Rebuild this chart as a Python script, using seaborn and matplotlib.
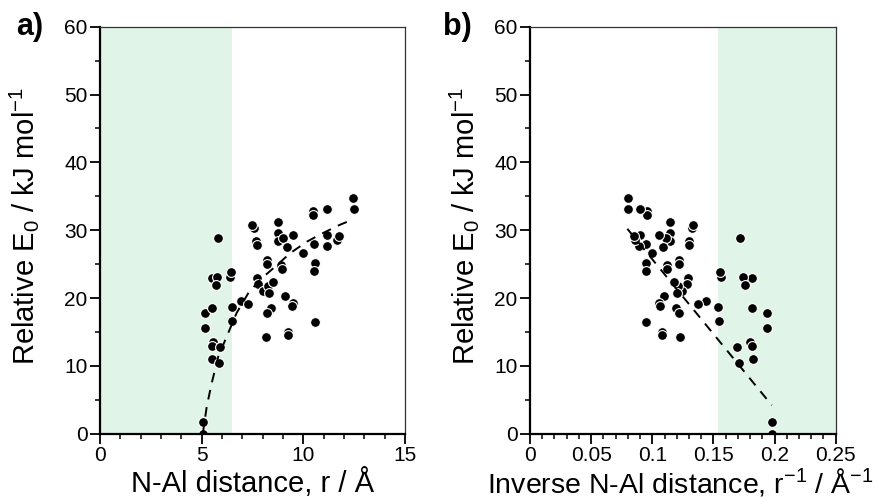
import numpy as np
import pandas as pd
import matplotlib
matplotlib.use("Agg")
import matplotlib.pyplot as plt
from matplotlib.ticker import MultipleLocator, FuncFormatter
import seaborn as sns

# ---- data ----
r_dist = [5.05, 5.05, 5.16, 5.52, 5.16, 5.52, 5.74, 5.70, 5.82, 5.57, 5.52, 5.90,
          5.49, 5.85, 6.39, 6.44, 6.51, 6.48, 6.94, 7.26, 7.57, 7.49, 7.67, 7.71,
          7.74, 7.79, 8.03, 8.23, 8.20, 8.28, 8.33, 8.49, 8.40, 8.20, 8.17, 8.74,
          8.74, 8.74, 9.02, 9.18, 9.47, 8.90, 8.93, 9.10, 9.51, 9.44, 9.26, 9.23,
          10.00, 10.46, 10.49, 10.54, 10.58, 10.54, 10.58, 11.15, 11.15, 11.18,
          11.64, 11.77, 12.43, 12.49]
energy = [0.0, 1.7, 17.8, 18.5, 15.6, 22.9, 23.1, 21.9, 28.8, 13.5, 12.9, 12.8,
          11.0, 10.4, 23.1, 23.8, 18.7, 16.6, 19.6, 19.1, 30.3, 30.7, 28.4, 27.8,
          23.0, 22.1, 21.1, 25.6, 25.0, 21.7, 20.7, 22.4, 18.6, 17.8, 14.3, 31.2,
          29.6, 28.4, 28.8, 27.5, 29.3, 24.8, 24.3, 20.3, 19.2, 18.8, 15.0, 14.5,
          26.6, 32.9, 32.2, 28.0, 25.2, 24.0, 16.4, 33.1, 29.3, 27.6,
          28.5, 29.2, 34.7, 33.1]

# fitted curve (left)
fit_r = [5.0, 5.08, 5.25, 5.49, 5.82, 6.23, 6.72, 7.29, 7.87, 8.53, 9.35, 10.17,
         10.98, 11.80, 12.46]
fit_E = [0.0, 0.5, 4.0, 7.4, 11.4, 14.3, 17.8, 20.7, 22.7, 24.4, 26.6, 28.3,
         29.6, 30.8, 31.6]
# linear fit (right)
fit_inv = [0.0796, 0.1977]
fit_inv_E = [30.2, 4.2]

shade_left = (0.0, 6.5)
shade_right = (1 / 6.5, 0.25)

df = pd.DataFrame({"r": r_dist, "E": energy})
df["inv"] = 1.0 / df["r"]
fit_left = pd.DataFrame({"x": fit_r, "y": fit_E})
fit_right = pd.DataFrame({"x": fit_inv, "y": fit_inv_E})

# ---- styling ----
sns.set_style("ticks")
plt.rcParams["font.family"] = ["Liberation Sans", "DejaVu Sans"]
plt.rcParams["mathtext.fontset"] = "custom"
plt.rcParams["mathtext.rm"] = "Liberation Sans"
plt.rcParams["mathtext.it"] = "Liberation Sans:italic"
plt.rcParams["mathtext.default"] = "regular"
for k in ["text.color", "axes.labelcolor", "xtick.color", "ytick.color", "axes.edgecolor"]:
    plt.rcParams[k] = "black"

green = "#e0f4e7"

fig = plt.figure(figsize=(8.81, 4.97), dpi=100)
axL = fig.add_axes([0.1135, 0.1274, 0.3462, 0.8189])
axR = fig.add_axes([0.6016, 0.1274, 0.3470, 0.8189])


def style(ax, ylab_x):
    for s in ["left", "bottom"]:
        ax.spines[s].set_linewidth(1.6)
        ax.spines[s].set_color("black")
    for s in ["top", "right"]:
        ax.spines[s].set_linewidth(0.9)
        ax.spines[s].set_color("#333333")
    ax.tick_params(which="major", direction="out", length=7, width=1.3,
                   labelsize=15, colors="black", pad=2)
    ax.tick_params(which="minor", direction="out", length=3.5, width=1.1)
    ax.tick_params(top=False, right=False)
    ax.set_ylim(0, 60)
    ax.yaxis.set_major_locator(MultipleLocator(10))
    ax.yaxis.set_minor_locator(MultipleLocator(5))
    ax.set_ylabel("Relative E$_0$ / kJ mol$^{-1}$", fontsize=21)
    ax.yaxis.set_label_coords(ylab_x, 0.51)
    ax.yaxis.label.set_verticalalignment("baseline")


# left panel
axL.axvspan(*shade_left, color=green, lw=0, zorder=0)
sns.scatterplot(data=df, x="r", y="E", ax=axL, color="black", s=50,
                edgecolor="white", linewidth=0.8, zorder=2, legend=False)
sns.lineplot(data=fit_left, x="x", y="y", ax=axL, color="black", lw=1.4,
             linestyle=(0, (5, 4)), zorder=3, sort=True)
axL.set_xlim(0, 15)
axL.xaxis.set_major_locator(MultipleLocator(5))
axL.xaxis.set_minor_locator(MultipleLocator(1))
style(axL, -0.215)
axL.set_xlabel("N-Al distance, r / Å", fontsize=21)
axL.xaxis.set_label_coords(0.5, -0.143)
axL.xaxis.label.set_verticalalignment("baseline")

# right panel
axR.axvspan(*shade_right, color=green, lw=0, zorder=0)
sns.scatterplot(data=df, x="inv", y="E", ax=axR, color="black", s=50,
                edgecolor="white", linewidth=0.8, zorder=2, legend=False)
sns.lineplot(data=fit_right, x="x", y="y", ax=axR, color="black", lw=1.4,
             linestyle=(0, (5, 4)), zorder=3, sort=True)
axR.set_xlim(0, 0.25)
axR.xaxis.set_major_locator(MultipleLocator(0.05))
axR.xaxis.set_minor_locator(MultipleLocator(0.01))
axR.xaxis.set_major_formatter(FuncFormatter(lambda v, p: f"{v:g}"))
style(axR, -0.183)
axR.set_xlabel("Inverse N-Al distance, r$^{-1}$ / Å$^{-1}$", fontsize=20.5)
axR.xaxis.set_label_coords(0.492, -0.145)
axR.xaxis.label.set_verticalalignment("baseline")

fig.text(0.018, 0.945, "a)", fontsize=22, fontweight="bold", va="center", ha="left")
fig.text(0.503, 0.945, "b)", fontsize=22, fontweight="bold", va="center", ha="left")

fig.savefig("out.png", dpi=100)
